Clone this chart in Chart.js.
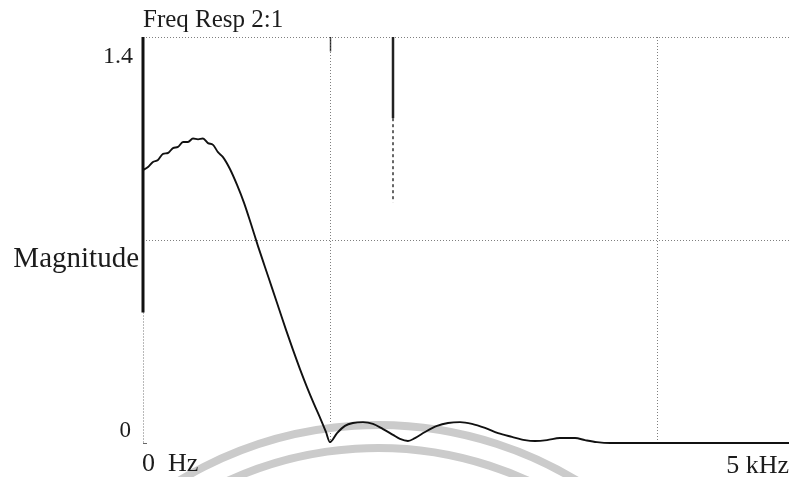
<!DOCTYPE html>
<html>
<head>
<meta charset="utf-8">
<title>Freq Resp 2:1</title>
<script src="https://cdn.jsdelivr.net/npm/chart.js@4.4.1/dist/chart.umd.min.js"></script>
<style>
  html, body { margin: 0; padding: 0; background: #ffffff; }
  #wrap { width: 789px; height: 477px; }
</style>
</head>
<body>
<div id="wrap"><canvas id="c" width="789" height="477"></canvas></div>
<script>
// Frequency response of the 2:1 decimation filter
const freqHz = [0, 39, 77, 116, 155, 193, 232, 271, 310, 348,
                387, 426, 464, 503, 542, 580, 619,
                673, 728, 782, 836, 890, 944, 999, 1053,
                1107, 1161, 1215, 1269, 1324, 1378, 1416, 1447,
                1502, 1563, 1625, 1703, 1780, 1858, 1935, 1989, 2051,
                2105, 2183, 2276, 2361, 2454, 2546, 2647, 2748, 2856, 2957,
                3034, 3127, 3227, 3344, 3421, 3514, 3615, 5000];
const magnitude = [0.941, 0.952, 0.969, 0.976, 0.997, 1.000, 1.017, 1.021, 1.038, 1.038,
                   1.050, 1.047, 1.050, 1.034, 1.028, 1.003, 0.986,
                   0.945, 0.890, 0.828, 0.755, 0.679, 0.607, 0.534, 0.462,
                   0.390, 0.321, 0.255, 0.193, 0.134, 0.079, 0.038, 0.003,
                   0.034, 0.059, 0.069, 0.072, 0.066, 0.048, 0.028, 0.014, 0.007,
                   0.017, 0.038, 0.059, 0.069, 0.072, 0.066, 0.052, 0.034, 0.021, 0.010,
                   0.007, 0.010, 0.017, 0.017, 0.010, 0.003, 0, 0];

// Axis range, grid positions and labels
const freqRange = [0, 5000];
const magRange = [0, 1.4];
const freqGrid = [1450, 3980];
const magGrid = [0.7, 1.4];
const magTickLabels = ['0', '1.4'];
const freqTickLabels = ['0  Hz', '5 kHz'];
const titleText = 'Freq Resp 2:1';
const magAxisTitle = 'Magnitude';

const SERIF = '"Liberation Serif", "Times New Roman", serif';
const INK = '#1c1c1c';

const decorations = {
  id: 'decorations',
  beforeDatasetsDraw(chart) {
    const ctx = chart.ctx;
    const xs = chart.scales.x, ys = chart.scales.y;
    // faint circular stamp showing through at the bottom
    ctx.save();
    ctx.strokeStyle = '#cbcbcb';
    ctx.lineWidth = 8;
    const cx = 378, cy = 808;
    [383, 360].forEach(r => {
      ctx.beginPath();
      ctx.arc(cx, cy, r, Math.PI * 1.1, Math.PI * 1.9);
      ctx.stroke();
    });
    ctx.restore();

    // left axis: heavy upper part, dotted lower part
    const x0 = xs.getPixelForValue(freqRange[0]);
    ctx.save();
    ctx.strokeStyle = '#111';
    ctx.lineWidth = 3;
    ctx.beginPath();
    ctx.moveTo(x0, ys.getPixelForValue(1.4));
    ctx.lineTo(x0, ys.getPixelForValue(0.45));
    ctx.stroke();
    ctx.strokeStyle = 'rgba(0,0,0,0.55)';
    ctx.lineWidth = 1;
    ctx.setLineDash([1, 2]);
    ctx.beginPath();
    ctx.moveTo(x0 + 0.5, ys.getPixelForValue(0.45));
    ctx.lineTo(x0 + 0.5, ys.getPixelForValue(0));
    ctx.stroke();
    ctx.setLineDash([]);
    ctx.strokeStyle = 'rgba(0,0,0,0.6)';
    ctx.beginPath();
    ctx.moveTo(x0, ys.getPixelForValue(0) + 0.5);
    ctx.lineTo(x0 + 4, ys.getPixelForValue(0) + 0.5);
    ctx.stroke();

    // heavy marker segment near 1.93 kHz
    const xm = xs.getPixelForValue(1935);
    ctx.strokeStyle = '#222';
    ctx.lineWidth = 2.5;
    ctx.beginPath();
    ctx.moveTo(xm, ys.getPixelForValue(1.4));
    ctx.lineTo(xm, ys.getPixelForValue(1.12));
    ctx.stroke();
    ctx.setLineDash([3, 3]);
    ctx.lineWidth = 2;
    ctx.strokeStyle = 'rgba(0,0,0,0.6)';
    ctx.beginPath();
    ctx.moveTo(xm, ys.getPixelForValue(1.12));
    ctx.lineTo(xm, ys.getPixelForValue(0.83));
    ctx.stroke();
    ctx.setLineDash([]);
    // darker top stub of the first vertical grid line
    const xg = Math.round(xs.getPixelForValue(freqGrid[0])) + 0.5;
    ctx.strokeStyle = 'rgba(0,0,0,0.7)';
    ctx.lineWidth = 1.5;
    ctx.beginPath();
    ctx.moveTo(xg, ys.getPixelForValue(1.4));
    ctx.lineTo(xg, ys.getPixelForValue(1.35));
    ctx.stroke();
    ctx.restore();
  },
  afterDraw(chart) {
    const ctx = chart.ctx;
    const area = chart.chartArea;
    const ys = chart.scales.y;
    ctx.save();
    ctx.fillStyle = INK;
    ctx.textBaseline = 'alphabetic';

    ctx.font = '25px ' + SERIF;
    ctx.textAlign = 'left';
    ctx.fillText(titleText, area.left, 27);

    ctx.font = '24px ' + SERIF;
    ctx.textAlign = 'right';
    ctx.fillText(magTickLabels[1], area.left - 10, ys.getPixelForValue(magRange[1]) + 26);
    ctx.font = '23px ' + SERIF;
    ctx.fillText(magTickLabels[0], area.left - 12, ys.getPixelForValue(magRange[0]) - 6);

    ctx.font = '29px ' + SERIF;
    ctx.fillText(magAxisTitle, area.left - 4, 267);

    ctx.font = '26px ' + SERIF;
    ctx.textAlign = 'left';
    ctx.fillText(freqTickLabels[0], area.left - 1, area.bottom + 28);
    ctx.textAlign = 'right';
    ctx.fillText(freqTickLabels[1], area.right, area.bottom + 30);
    ctx.restore();
  }
};

new Chart(document.getElementById('c'), {
  type: 'line',
  data: {
    datasets: [{
      data: freqHz.map((f, i) => ({ x: f, y: magnitude[i] })),
      borderColor: '#111',
      borderWidth: 1.9,
      pointRadius: 0,
      fill: false,
      cubicInterpolationMode: 'monotone',
      clip: 6
    }]
  },
  options: {
    responsive: false,
    animation: false,
    devicePixelRatio: 1,
    layout: { padding: { left: 143, top: 37, right: 0, bottom: 34 } },
    plugins: { legend: { display: false }, tooltip: { enabled: false }, title: { display: false } },
    scales: {
      x: {
        type: 'linear', min: freqRange[0], max: freqRange[1],
        afterBuildTicks: s => { s.ticks = freqGrid.map(v => ({ value: v })); },
        ticks: { display: false },
        grid: { drawTicks: false, color: 'rgba(0,0,0,0.5)', lineWidth: 1 },
        border: { display: false, dash: [1, 2] }
      },
      y: {
        type: 'linear', min: magRange[0], max: magRange[1],
        afterBuildTicks: s => { s.ticks = magGrid.map(v => ({ value: v })); },
        ticks: { display: false },
        grid: { drawTicks: false, color: 'rgba(0,0,0,0.5)', lineWidth: 1 },
        border: { display: false, dash: [1, 2] }
      }
    }
  },
  plugins: [decorations]
});
</script>
</body>
</html>
